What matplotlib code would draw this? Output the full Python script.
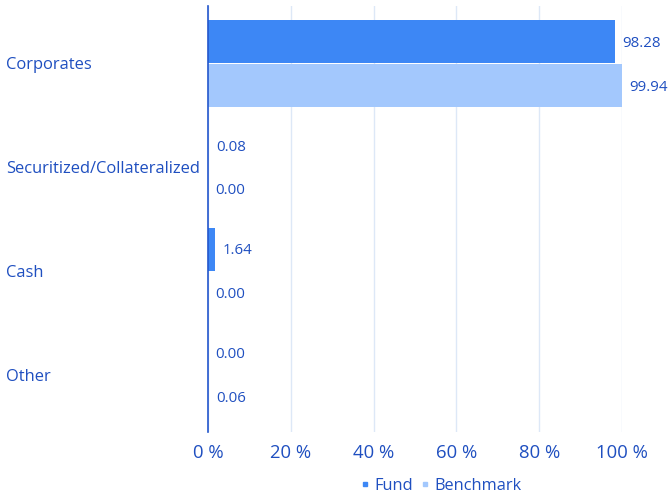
import matplotlib
matplotlib.use("Agg")
import matplotlib.pyplot as plt
from matplotlib.lines import Line2D
import numpy as np

categories = ["Corporates", "Securitized/Collateralized", "Cash", "Other"]
fund = [98.28, 0.08, 1.64, 0.00]
benchmark = [99.94, 0.00, 0.00, 0.06]
xticks = [0, 20, 40, 60, 80, 100]

TXT = "#1f4fc0"
FUND_C = "#3d87f5"
BENCH_C = "#a3c8fd"
plt.rcParams['font.family'] = ['Open Sans', 'DejaVu Sans']

fig = plt.figure(figsize=(6.7, 4.99), dpi=100)
ax = fig.add_axes([208/670, (499-432)/499, (622-208)/670, (432-6)/499])

y = np.arange(len(categories))
h = 0.415
ax.barh(y - 0.21, fund, height=h, color=FUND_C, zorder=3)
ax.barh(y + 0.21, benchmark, height=h, color=BENCH_C, zorder=3)

for i in range(len(categories)):
    ax.annotate(f"{fund[i]:.2f}", (fund[i], y[i] - 0.21), xytext=(5.5, -1.3),
                textcoords="offset points", va="center", ha="left",
                color=TXT, fontsize=10.8)
    ax.annotate(f"{benchmark[i]:.2f}", (benchmark[i], y[i] + 0.21), xytext=(5.5, -1.3),
                textcoords="offset points", va="center", ha="left",
                color=TXT, fontsize=10.8)

ax.set_xlim(0, 100)
ax.set_ylim(3.552, -0.554)
ax.set_xticks(xticks)
ax.set_xticklabels([f"{t} %" for t in xticks])
ax.set_yticks(y)
ax.set_yticklabels(categories, ha="left")
ax.tick_params(axis="y", length=0, pad=(208-6)/100*72, labelsize=11.9, labelcolor=TXT)
ax.tick_params(axis="x", length=0, pad=9, labelsize=13.3, labelcolor=TXT)
ax.grid(axis="x", color="#dde8f7", linewidth=1, zorder=0)
for s in ["top", "right", "bottom"]:
    ax.spines[s].set_visible(False)
ax.spines["left"].set_color("#2356cc")
ax.spines["left"].set_linewidth(1.2)
ax.spines["left"].set_zorder(4)

handles = [Line2D([], [], marker="s", linestyle="", color=FUND_C, markersize=3.5),
           Line2D([], [], marker="s", linestyle="", color=BENCH_C, markersize=3.5)]
leg = fig.legend(handles, ["Fund", "Benchmark"], loc="center", bbox_to_anchor=(441/670, 1-486/499),
                 ncol=2, frameon=False, fontsize=11.8, handlelength=0.5, handletextpad=0.3,
                 columnspacing=0.5, labelcolor=TXT)

fig.savefig("out.png", dpi=100)
